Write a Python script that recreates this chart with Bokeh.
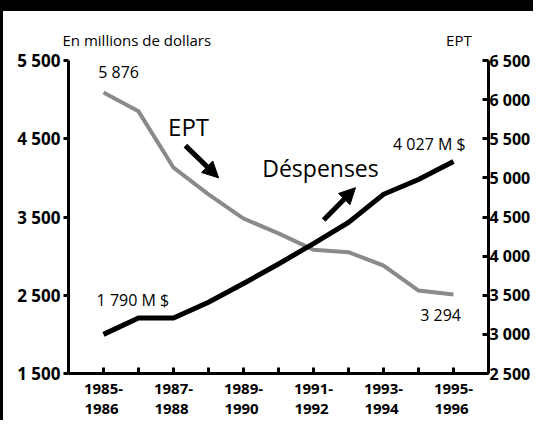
from bokeh.plotting import figure
from bokeh.models import Range1d, LinearAxis, FixedTicker, Label, Arrow, NormalHead, Title
from bokeh.embed import file_html
from bokeh.resources import INLINE

# ---- data ----
periods = ["1985-1986", "1986-1987", "1987-1988", "1988-1989", "1989-1990", "1990-1991",
           "1991-1992", "1992-1993", "1993-1994", "1994-1995", "1995-1996"]
depenses = [2000, 2210, 2210, 2410, 2650, 2900, 3160, 3430, 3790, 3980, 4210]   # M $ (left axis)
ept = [6090, 5850, 5130, 4790, 4480, 4290, 4080, 4050, 3880, 3560, 3510]        # EPT (right axis)
left_ticks = [1500, 2500, 3500, 4500, 5500]
right_ticks = [2500, 3000, 3500, 4000, 4500, 5000, 5500, 6000, 6500]
left_unit = "En millions de dollars"
right_unit = "EPT"

FONT = "Open Sans"
GRAY = "#8a8a8a"
W, H = 533, 420

def fmt(v):
    return f"{v:,}".replace(",", " ")

x = list(range(len(periods)))

p = figure(width=W, height=H,
           x_range=Range1d(-1, 11.0), y_range=Range1d(1500, 5500),
           output_backend="svg", toolbar_location=None,
           min_border_left=68, min_border_right=45, min_border_top=60, min_border_bottom=46)
# black band along the top and black rule on the left
p.styles = {"box-shadow": "inset 3px 11px 0 0 black"}
p.extra_y_ranges = {"ept": Range1d(2500, 6500)}
p.xgrid.visible = False
p.ygrid.visible = False
p.outline_line_color = None
p.background_fill_color = "white"
p.border_fill_color = None

# unit captions above the two axes
spacer = "\u2003" * 15 + "\u2002" + "\u2009"
p.add_layout(Title(text=left_unit + spacer + right_unit, align="left", offset=-6, standoff=22,
                   text_font=FONT, text_font_size="15px", text_font_style="normal",
                   text_color="black"), "above")

right = LinearAxis(y_range_name="ept")
p.add_layout(right, "right")
left = p.yaxis[0]
bottom = p.xaxis[0]

for ax in (left, right, bottom):
    ax.axis_line_width = 3
    ax.axis_line_color = "black"
    ax.major_tick_line_width = 3
    ax.major_tick_line_color = "black"
    ax.minor_tick_line_color = None
    ax.major_label_text_font = FONT
    ax.major_label_text_font_style = "bold"
    ax.major_label_text_font_size = "17px"
    ax.major_label_text_color = "black"

left.ticker = FixedTicker(ticks=left_ticks)
left.major_label_overrides = {t: fmt(t) for t in left_ticks}
left.major_tick_out = 5
left.major_tick_in = 0
left.major_label_standoff = 3

right.ticker = FixedTicker(ticks=right_ticks)
right.major_label_overrides = {t: fmt(t) for t in right_ticks}
right.major_label_text_font_size = "16px"
right.major_tick_out = 0
right.major_tick_in = 6
right.major_label_standoff = 1

bottom.ticker = FixedTicker(ticks=x)
overrides = {}
for i, per in enumerate(periods):
    if i % 2 == 0:
        a, b = per.split("-")
        overrides[i] = a + "-\n" + b + " "
    else:
        overrides[i] = ""
bottom.major_label_overrides = overrides
bottom.major_label_text_font_size = "15px"
bottom.major_tick_out = 0
bottom.major_tick_in = 6
bottom.major_label_standoff = 4
bottom.major_label_text_line_height = 1.0

p.line(x, ept, y_range_name="ept", line_color=GRAY, line_width=4, line_join="miter")
p.line(x, depenses, line_color="black", line_width=5, line_join="miter")

def lab(xv, yv, text, size, style="normal", align="center", baseline="middle"):
    p.add_layout(Label(x=xv, y=yv, text=text, text_font=FONT, text_font_size=size,
                       text_font_style=style, text_align=align, text_baseline=baseline,
                       text_color="black"))

lab(0.43, 5350, fmt(5876), "16px")
lab(0.84, 2440, fmt(1790) + " M $", "16px")
lab(9.31, 4437, fmt(4027) + " M $", "16px")
lab(9.63, 2250, fmt(3294), "16px")
lab(2.43, 4660, "EPT", "24px", baseline="alphabetic")
lab(6.2, 4125, "Déspenses", "23px", baseline="alphabetic")

p.add_layout(Arrow(end=NormalHead(size=16, fill_color="black", line_color="black"),
                   x_start=2.34, y_start=4412, x_end=3.29, y_end=4000,
                   line_width=5, line_color="black"))
p.add_layout(Arrow(end=NormalHead(size=16, fill_color="black", line_color="black"),
                   x_start=6.29, y_start=3462, x_end=7.2, y_end=3875,
                   line_width=5, line_color="black"))

open("out.html", "w").write(file_html(p, INLINE))
